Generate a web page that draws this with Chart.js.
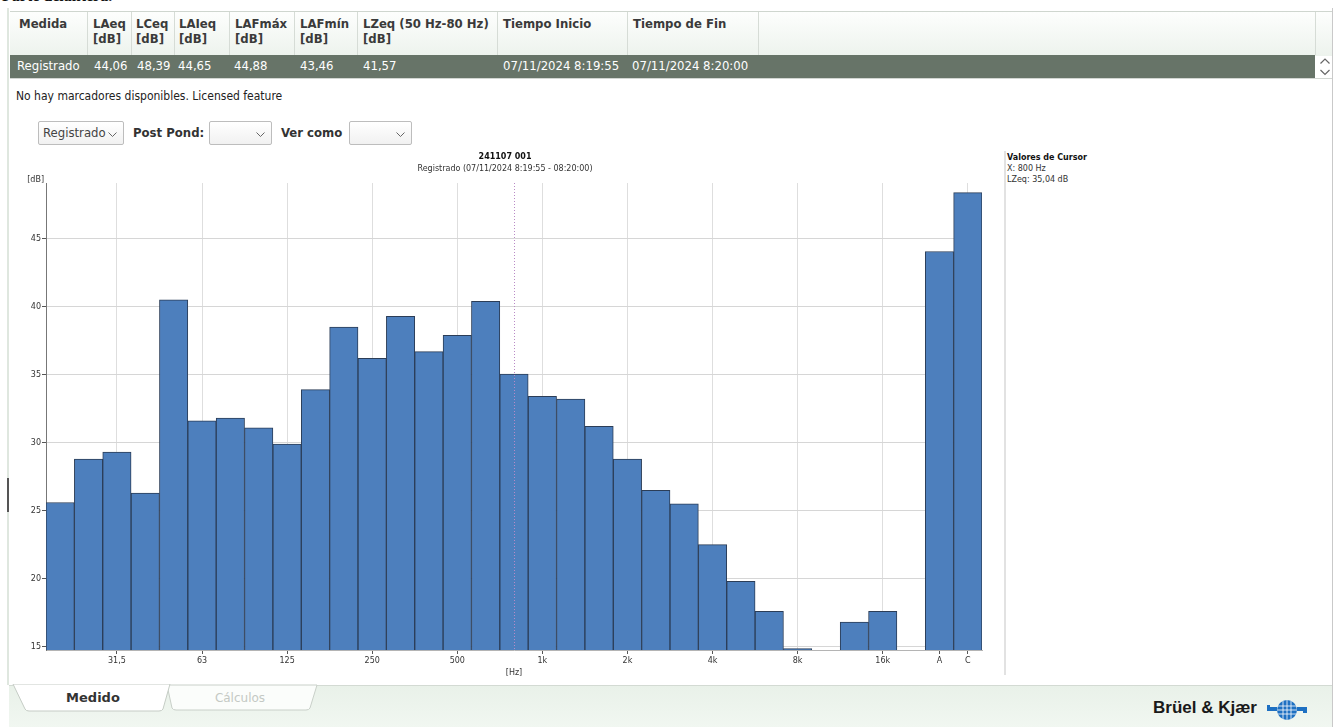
<!DOCTYPE html>
<html>
<head>
<meta charset="utf-8">
<script src="https://cdn.jsdelivr.net/npm/chart.js@4.4.1/dist/chart.umd.min.js"></script>
<style>
  body { margin: 0; width: 1339px; height: 727px; overflow: hidden; background: #fff; position: relative;
         font-family: "DejaVu Sans Condensed", "DejaVu Sans", sans-serif; }
  .abs { position: absolute; white-space: nowrap; }
  .hd { font-size: 13px; font-weight: bold; color: #3a3a3a; line-height: 15px; top: 16px; }
  .sep { position: absolute; top: 12px; height: 43px; width: 1px; background: #d6dcd6; }
  .rv { font-size: 13px; color: #fff; top: 58px; line-height: 16px; }
  .dd { position: absolute; top: 121px; height: 24px; border: 1px solid #bdbdbd; border-radius: 2px;
        background: linear-gradient(#fff, #f1f1f1); box-sizing: border-box; }
  .dd svg { position: absolute; right: 6px; top: 10px; }
  .lbl { font-size: 13px; font-weight: bold; color: #333; top: 125px; }
  .sm { font-family: "DejaVu Sans", sans-serif; font-size: 8px; color: #333; left: 1007px; }
</style>
</head>
<body>
<div class="abs" style="left:2px;top:-13px;font:bold 16px 'Liberation Serif',serif;color:#111">Parte delantera.</div>

<!-- panel frame -->
<div class="abs" style="left:7px;top:8px;width:2px;height:677px;background:#dfe7df"></div>
<div class="abs" style="left:7px;top:478px;width:2px;height:34px;background:#555"></div>
<div class="abs" style="left:1332px;top:8px;width:1px;height:719px;background:#c9c9c9"></div>

<!-- table header -->
<div class="abs" style="left:10px;top:11px;width:1322px;height:44px;border-top:1px solid #cfd6cf;background:linear-gradient(#fdfefd,#edf3ed)"></div>
<div class="sep" style="left:87px"></div><div class="sep" style="left:131px"></div>
<div class="sep" style="left:174px"></div><div class="sep" style="left:229px"></div>
<div class="sep" style="left:294px"></div><div class="sep" style="left:357px"></div>
<div class="sep" style="left:497px"></div><div class="sep" style="left:627px"></div>
<div class="sep" style="left:758px"></div><div class="sep" style="left:1315px"></div>
<div class="abs hd" style="left:19px">Medida</div>
<div class="abs hd" style="left:93px">LAeq<br>[dB]</div>
<div class="abs hd" style="left:136px">LCeq<br>[dB]</div>
<div class="abs hd" style="left:179px">LAIeq<br>[dB]</div>
<div class="abs hd" style="left:235px">LAFmáx<br>[dB]</div>
<div class="abs hd" style="left:300px">LAFmín<br>[dB]</div>
<div class="abs hd" style="left:363px">LZeq (50 Hz-80 Hz)<br>[dB]</div>
<div class="abs hd" style="left:503px">Tiempo Inicio</div>
<div class="abs hd" style="left:633px">Tiempo de Fin</div>

<!-- data row -->
<div class="abs" style="left:10px;top:55px;width:1305px;height:23px;background:#677468"></div>
<div class="abs" style="left:10px;top:78px;width:1322px;height:1px;background:#d2d6d2"></div>
<div class="abs rv" style="left:17px">Registrado</div>
<div class="abs rv" style="left:94px">44,06</div>
<div class="abs rv" style="left:137px">48,39</div>
<div class="abs rv" style="left:178px">44,65</div>
<div class="abs rv" style="left:234px">44,88</div>
<div class="abs rv" style="left:300px">43,46</div>
<div class="abs rv" style="left:363px">41,57</div>
<div class="abs rv" style="left:503px">07/11/2024 8:19:55</div>
<div class="abs rv" style="left:632px">07/11/2024 8:20:00</div>
<svg class="abs" style="left:1319px;top:57px" width="12" height="20">
  <path d="M1.5 6.5 L6 2 L10.5 6.5" fill="none" stroke="#666" stroke-width="1.2"/>
  <path d="M1.5 13 L6 17.5 L10.5 13" fill="none" stroke="#666" stroke-width="1.2"/>
</svg>

<div class="abs" style="left:16px;top:89px;font-size:12px;color:#222">No hay marcadores disponibles. Licensed feature</div>

<!-- selectors -->
<div class="dd" style="left:38px;width:86px">
  <span class="abs" style="left:4px;top:3px;font-size:13px;color:#444">Registrado</span>
  <svg width="9" height="6"><path d="M0.5 0.5 L4.5 4.5 L8.5 0.5" fill="none" stroke="#666"/></svg>
</div>
<div class="abs lbl" style="left:133px">Post Pond:</div>
<div class="dd" style="left:209px;width:63px"><svg width="9" height="6"><path d="M0.5 0.5 L4.5 4.5 L8.5 0.5" fill="none" stroke="#666"/></svg></div>
<div class="abs lbl" style="left:281px">Ver como</div>
<div class="dd" style="left:349px;width:63px"><svg width="9" height="6"><path d="M0.5 0.5 L4.5 4.5 L8.5 0.5" fill="none" stroke="#666"/></svg></div>

<!-- chart -->
<div class="abs" style="left:10px;top:148px;width:990px;height:532px">
  <canvas id="spectrum" width="990" height="532"></canvas>
</div>

<!-- cursor panel -->
<div class="abs" style="left:1004px;top:151px;width:2px;height:524px;background:#e2e2e2"></div>
<div class="abs sm" style="top:153px;font-weight:bold;color:#111">Valores de Cursor</div>
<div class="abs sm" style="top:164px" id="cur-x"></div>
<div class="abs sm" style="top:175px" id="cur-y"></div>

<!-- bottom bar -->
<div class="abs" style="left:9px;top:685px;width:1323px;height:42px;background:linear-gradient(#e9f1e9,#f1f7f1);border-top:1px solid #d3dad3"></div>
<svg class="abs" style="left:0;top:684px" width="340" height="32">
  <path d="M167 1 L317 1 L310 24 Q309 26 306 26 L176 26 Q173 26 172 24 Z" fill="#fbfdfb" stroke="#c9d0c9"/>
  <path d="M13 0 L170 0 L163 25 Q162 27 159 27 L29 27 Q26 27 25 25 Z" fill="#fff" stroke="#c5ccc5"/>
  <text x="93" y="18" text-anchor="middle" font-family="DejaVu Sans" font-weight="bold" font-size="13" fill="#333">Medido</text>
  <text x="240" y="18" text-anchor="middle" font-family="DejaVu Sans" font-size="12" fill="#c4c9c4">Cálculos</text>
</svg>
<div class="abs" style="left:1153px;top:698px;font:bold 17px 'Liberation Sans',Arial,sans-serif;color:#1a1a1a">Brüel &amp; Kjær</div>
<svg class="abs" style="left:1266px;top:699px" width="42" height="22">
  <rect x="1" y="8" width="10" height="4" fill="#1e70c2"/>
  <rect x="1" y="6" width="3" height="4" fill="#1e70c2"/>
  <rect x="31" y="8" width="10" height="4" fill="#1e70c2"/>
  <rect x="37" y="10" width="4" height="4" fill="#1e70c2"/>
  <circle cx="21" cy="11" r="10" fill="#1e70c2"/>
  <path d="M11 7 H31 M11 11 H31 M11 15 H31 M17 1.5 V20.5 M21 1 V21 M25 1.5 V20.5" stroke="#fff" stroke-width="0.8"/>
</svg>

<script>
const bands = ['20', '25', '31,5', '40', '50', '63', '80', '100', '125', '160', '200', '250', '315', '400', '500',
  '630', '800', '1k', '1,25k', '1,6k', '2k', '2,5k', '3,15k', '4k', '5k', '6,3k', '8k', '10k', '12,5k', '16k', '20k', 'A', 'C'];
const lzeq = [25.6, 28.8, 29.3, 26.3, 40.5, 31.6, 31.8, 31.1, 29.9, 33.9, 38.5, 36.2, 39.3, 36.7, 37.9,
  40.4, 35.04, 33.4, 33.2, 31.2, 28.8, 26.5, 25.5, 22.5, 19.8, 17.6, 14.85, null, 16.8, 17.6, null, 44.06, 48.39];
const shownTicks = ['31,5', '63', '125', '250', '500', '1k', '2k', '4k', '8k', '16k', 'A', 'C'];
const gridBands = ['31,5', '63', '125', '250', '500', '1k', '2k', '4k', '8k', '16k', 'C'];
const yTicks = [15, 20, 25, 30, 35, 40, 45];
const yMin = 14.75, yMax = 49.1;
const cursorBand = '800';
const titleText = '241107 001';
const subtitleText = 'Registrado (07/11/2024 8:19:55 - 08:20:00)';

const font = { family: 'DejaVu Sans', size: 8 };

document.getElementById('cur-x').textContent = 'X: ' + cursorBand + ' Hz';
document.getElementById('cur-y').textContent = 'LZeq: ' + lzeq[bands.indexOf(cursorBand)].toFixed(2).replace('.', ',') + ' dB';

// cursor line, unit label and the titles (centred on the whole canvas like the original)
const overlay = {
  id: 'overlay',
  afterDatasetsDraw(chart) {
    const { ctx, chartArea, scales: { x } } = chart;
    const px = Math.round(x.getPixelForValue(bands.indexOf(cursorBand))) + 0.5;
    ctx.save();
    ctx.strokeStyle = '#b98ac6';
    ctx.lineWidth = 1;
    ctx.setLineDash([1, 2]);
    ctx.beginPath();
    ctx.moveTo(px, chartArea.top);
    ctx.lineTo(px, chartArea.bottom);
    ctx.stroke();
    ctx.setLineDash([]);
    ctx.font = '8px "DejaVu Sans"';
    ctx.fillStyle = '#333';
    ctx.textAlign = 'right';
    ctx.textBaseline = 'middle';
    ctx.fillText('[dB]', chartArea.left - 2, chartArea.top - 3);
    ctx.textAlign = 'center';
    ctx.fillText(subtitleText, chart.width / 2, 21);
    ctx.font = 'bold 8px "DejaVu Sans"';
    ctx.fillStyle = '#111';
    ctx.fillText(titleText, chart.width / 2, 9);
    ctx.restore();
  }
};

new Chart(document.getElementById('spectrum'), {
  type: 'bar',
  data: {
    labels: bands,
    datasets: [{ label: 'LZeq', data: lzeq, backgroundColor: '#4d7fbd', borderColor: '#2b3d57', borderWidth: 1,
      barPercentage: 1, categoryPercentage: 1 }],
  },
  options: {
    responsive: false, animation: false, devicePixelRatio: 1,
    layout: { padding: { left: 0, right: 18, top: 35, bottom: 0 } },
    plugins: {
      legend: { display: false }, tooltip: { enabled: false },
    },
    scales: {
      x: {
        offset: true,
        grid: {
          offset: false, tickLength: 4,
          color: c => gridBands.includes(bands[c.index]) ? '#dedede' : 'rgba(0,0,0,0)',
          tickColor: c => shownTicks.includes(bands[c.index]) ? '#555' : 'rgba(0,0,0,0)',
        },
        border: { color: '#b4b4b4' },
        ticks: { autoSkip: false, maxRotation: 0, color: '#333', font, padding: 2,
          callback: (v, i) => shownTicks.includes(bands[i]) ? bands[i] : '' },
        title: { display: true, text: '[Hz]', color: '#333', font, padding: { top: 0, bottom: 2 } },
        afterFit: s => { s.height = 30; },
      },
      y: {
        min: yMin, max: yMax,
        afterBuildTicks: a => { a.ticks = yTicks.map(v => ({ value: v })); },
        grid: { color: '#d6d6d6', tickColor: '#555', tickLength: 4 },
        border: { color: '#777' },
        ticks: { color: '#333', font, padding: 1 },
        afterFit: s => { s.width = 36; },
      },
    },
  },
  plugins: [overlay],
});
</script>
</body>
</html>
